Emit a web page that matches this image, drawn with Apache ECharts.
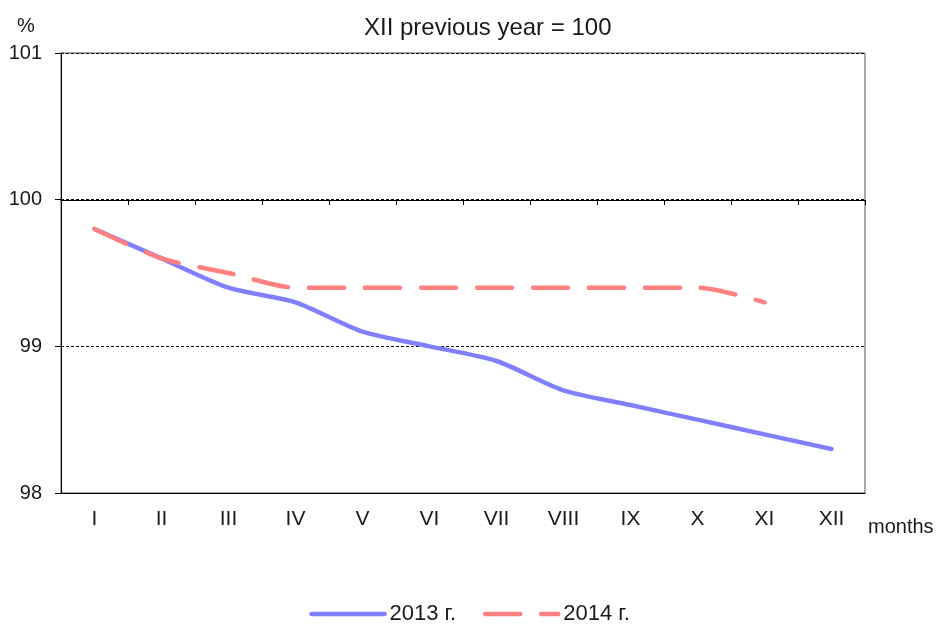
<!DOCTYPE html>
<html>
<head>
<meta charset="utf-8">
<script src="https://cdn.jsdelivr.net/npm/echarts@6/dist/echarts.min.js"></script>
<style>html,body{margin:0;padding:0;background:#fff;}#c{width:939px;height:624px;}</style>
</head>
<body>
<div id="c"></div>
<script>
const months = ['I','II','III','IV','V','VI','VII','VIII','IX','X','XI','XII'];
const s2013 = [99.8, 99.6, 99.4, 99.3, 99.1, 99.0, 98.9, 98.7, 98.6, 98.5, 98.4, 98.3];
const s2014 = [99.8, 99.6, 99.5, 99.4, 99.4, 99.4, 99.4, 99.4, 99.4, 99.4, 99.3];
const yTicks = [98, 99, 100, 101];
const seriesNames = ['2013 г.', '2014 г.'];

const FONT = 'Liberation Sans, Arial, sans-serif';
const TXT = '#1a1a1a';
const chart = echarts.init(document.getElementById('c'), null, {renderer: 'canvas'});
chart.setOption({
  animation: false,
  backgroundColor: '#fff',
  title: [
    {text: 'XII previous year = 100', left: 359, top: 11,
     textStyle: {fontFamily: FONT, fontSize: 24, fontWeight: 'normal', color: TXT}},
    {text: '%', left: 12, top: 11,
     textStyle: {fontFamily: FONT, fontSize: 20, fontWeight: 'normal', color: TXT}}
  ],
  grid: {left: 61, right: 74, top: 53, bottom: 131, show: true, borderColor: '#555', borderWidth: 1, backgroundColor: 'transparent'},
  legend: {
    top: 598, left: 'center', itemWidth: 73, itemHeight: 14, itemGap: 27,
    textStyle: {fontFamily: FONT, fontSize: 22, color: TXT},
    itemStyle: {opacity: 0},
    lineStyle: {width: 4.5, cap: 'round'},
    data: seriesNames
  },
  xAxis: [
    {type: 'category', data: months, boundaryGap: true, position: 'bottom',
     axisLine: {show: true, lineStyle: {color: '#000', width: 1}},
     axisTick: {show: false},
     axisLabel: {fontFamily: FONT, fontSize: 21, color: TXT, margin: 16},
     name: 'months', nameLocation: 'end', nameGap: 3,
     nameTextStyle: {fontFamily: FONT, fontSize: 20, color: TXT, align: 'left', verticalAlign: 'top', padding: [24, 0, 0, 0]}
    },
    {type: 'category', data: months, boundaryGap: true, position: 'top', offset: -147,
     axisLine: {show: true, lineStyle: {color: '#000', width: 1}},
     axisTick: {show: true, inside: true, length: 5, lineStyle: {color: '#000'}},
     axisLabel: {show: false}
    }
  ],
  yAxis: {
    type: 'value', min: yTicks[0], max: yTicks[yTicks.length - 1], interval: 1,
    axisLine: {show: true, lineStyle: {color: '#000', width: 1}},
    axisTick: {show: true, length: 6, lineStyle: {color: '#000'}},
    axisLabel: {fontFamily: FONT, fontSize: 20, color: TXT, margin: 19},
    splitLine: {show: true, lineStyle: {color: '#000', width: 1, type: [3, 2]}}
  },
  series: [
    {name: seriesNames[0], type: 'line', data: s2013, xAxisIndex: 0, symbol: 'none', smooth: 0.25,
     color: '#8080ff',
     lineStyle: {color: '#8080ff', width: 4.5, cap: 'round', join: 'round'}},
    {name: seriesNames[1], type: 'line', data: s2014, xAxisIndex: 0, symbol: 'none', smooth: 0.25,
     color: '#ff8080', z: 3,
     lineStyle: {color: '#ff8080', width: 4.5, type: [35, 21], cap: 'round', join: 'round'}}
  ]
});
</script>
</body>
</html>
